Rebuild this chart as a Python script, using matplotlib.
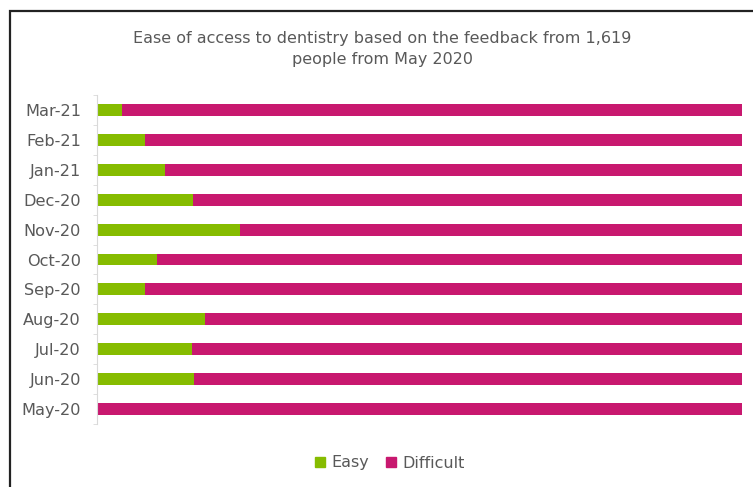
import numpy as np
import matplotlib
matplotlib.use("Agg")
import matplotlib.pyplot as plt
from matplotlib.patches import Rectangle, Patch

months = ["May-20", "Jun-20", "Jul-20", "Aug-20", "Sep-20", "Oct-20",
          "Nov-20", "Dec-20", "Jan-21", "Feb-21", "Mar-21"]
easy = [0.0, 15.0, 14.8, 16.7, 7.5, 9.3, 22.1, 14.9, 10.6, 7.5, 3.9]
difficult = [100 - e for e in easy]

green = "#86bc00"
magenta = "#c8186f"
textcol = "#595959"

fig = plt.figure(figsize=(7.53, 4.87), dpi=100)
ax = fig.add_axes([97/753, 1 - 424/487, (742 - 97)/753, (424 - 95)/487])

y = np.arange(len(months))
ax.barh(y, easy, height=0.4, color=green)
ax.barh(y, difficult, left=easy, height=0.4, color=magenta)

ax.set_xlim(0, 100)
ax.set_ylim(-0.5, len(months) - 0.5)
ax.set_yticks(y)
ax.set_yticklabels(months, fontsize=11.6, color=textcol)
ax.set_yticks(np.arange(-0.5, len(months)), minor=True)
ax.tick_params(axis="y", which="major", length=0, pad=11.5)
ax.tick_params(axis="y", which="minor", length=3, color="#d9d9d9")
ax.set_xticks([])
for s in ["top", "right", "bottom"]:
    ax.spines[s].set_visible(False)
ax.spines["left"].set_color("#d9d9d9")

fig.text(382/753, 1 - 49/487,
         "Ease of access to dentistry based on the feedback from 1,619\npeople from May 2020",
         ha="center", va="center", fontsize=11.5, color=textcol, linespacing=1.55)

handles = [Patch(color=green, label="Easy"), Patch(color=magenta, label="Difficult")]
fig.legend(handles=handles, loc="center", bbox_to_anchor=(390/753, 1 - 463/487),
           ncol=2, frameon=False, fontsize=11.5, handlelength=0.6, handleheight=0.6,
           handletextpad=0.4, columnspacing=1.1, labelcolor=textcol)

# outer chart frame (cropped on right and bottom)
fig.patches.append(Rectangle((10/753, -0.1), 1.2, 1 - 11/487 + 0.1,
                             transform=fig.transFigure, fill=False,
                             edgecolor="#222222", linewidth=1.6))

fig.savefig("out.png", dpi=100)
